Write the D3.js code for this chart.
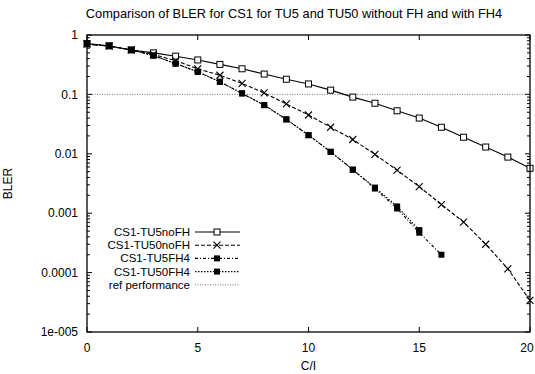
<!DOCTYPE html>
<meta charset="utf-8">
<style>
body { margin: 0; background: #fff; }
text { font-family: 'Liberation Sans', Arial, sans-serif; fill: #000; }
.frame { fill: none; stroke: #000; stroke-width: 1.3; }
.tick { stroke: #000; stroke-width: 1; }
</style>
<div class="chart"></div>
<script src="https://d3js.org/d3.v7.min.js"></script>
<script>
    var ci = d3.range(0, 21);
    var tu5noFH = [0.72, 0.66, 0.56, 0.50, 0.44, 0.38, 0.32, 0.27, 0.22, 0.18, 0.15, 0.118, 0.09, 0.071, 0.053, 0.040, 0.028, 0.019, 0.013, 0.0088, 0.0057];
    var tu50noFH = [0.70, 0.65, 0.56, 0.47, 0.37, 0.27, 0.21, 0.153, 0.106, 0.069, 0.045, 0.028, 0.0174, 0.0098, 0.0053, 0.0028, 0.0014, 0.00071, 0.0003, 0.000116, 0.000034];
    var tu5FH4 = [0.70, 0.65, 0.56, 0.45, 0.33, 0.24, 0.163, 0.104, 0.066, 0.038, 0.0206, 0.0108, 0.0054, 0.0026, 0.0012, 0.00047, 0.0002];
    var tu50FH4 = [0.70, 0.65, 0.56, 0.45, 0.33, 0.24, 0.163, 0.104, 0.066, 0.038, 0.0206, 0.0108, 0.0054, 0.0027, 0.0013, 0.00052];
    var refLevel = 0.1;
    var yTicks = [1, 0.1, 0.01, 0.001, 0.0001, 0.00001];
    var yTickLabels = ["1", "0.1", "0.01", "0.001", "0.0001", "1e-005"];
    var xTicks = [0, 5, 10, 15, 20];

    var series = [
        { name: "CS1-TU5noFH", values: tu5noFH, dash: null, marker: "open" },
        { name: "CS1-TU50noFH", values: tu50noFH, dash: "4,2", marker: "cross" },
        { name: "CS1-TU5FH4", values: tu5FH4, dash: "3,2,1,2", marker: "filled" },
        { name: "CS1-TU50FH4", values: tu50FH4, dash: "1.5,1.5", marker: "filled" }
    ];

    var W = 535, H = 374;
    var margin = { top: 35, right: 5, bottom: 42, left: 87 };
    var width = W - margin.left - margin.right;
    var height = H - margin.top - margin.bottom;

    var svg = d3.select(".chart").append("svg")
        .attr("width", W).attr("height", H);

    svg.append("text")
        .attr("x", 294).attr("y", 18)
        .attr("text-anchor", "middle")
        .style("font-size", "12.8px")
        .text("Comparison of BLER for CS1 for TU5 and TU50 without FH and with FH4");

    var g = svg.append("g")
        .attr("transform", "translate(" + margin.left + "," + margin.top + ")");

    var x = d3.scaleLinear().domain([0, 20]).range([0, width]);
    var y = d3.scaleLog().domain([0.00001, 1]).range([height, 0]);

    // ticks (inward, on all four sides)
    yTicks.forEach(function (t, i) {
        g.append("line").attr("class", "tick").attr("x1", 0).attr("x2", 5).attr("y1", y(t)).attr("y2", y(t));
        g.append("line").attr("class", "tick").attr("x1", width).attr("x2", width - 5).attr("y1", y(t)).attr("y2", y(t));
        g.append("text")
            .attr("x", -9).attr("y", y(t)).attr("dy", "0.35em")
            .attr("text-anchor", "end")
            .style("font-size", "12px")
            .text(yTickLabels[i]);
        if (i < yTicks.length - 1) {
            d3.range(2, 10).forEach(function (m) {
                var v = yTicks[i + 1] * m;
                g.append("line").attr("class", "tick").attr("x1", 0).attr("x2", 3).attr("y1", y(v)).attr("y2", y(v));
                g.append("line").attr("class", "tick").attr("x1", width).attr("x2", width - 3).attr("y1", y(v)).attr("y2", y(v));
            });
        }
    });

    xTicks.forEach(function (t) {
        g.append("line").attr("class", "tick").attr("x1", x(t)).attr("x2", x(t)).attr("y1", height).attr("y2", height - 5);
        g.append("line").attr("class", "tick").attr("x1", x(t)).attr("x2", x(t)).attr("y1", 0).attr("y2", 5);
        g.append("text")
            .attr("x", Math.min(x(t), width - 3)).attr("y", height + 20)
            .attr("text-anchor", "middle")
            .style("font-size", "12px")
            .text(t);
    });

    g.append("text")
        .attr("x", width / 2).attr("y", height + 38)
        .attr("text-anchor", "middle")
        .style("font-size", "12px")
        .text("C/I");

    g.append("text")
        .attr("transform", "translate(" + (-75) + "," + (height / 2) + ") rotate(-90)")
        .attr("text-anchor", "middle")
        .style("font-size", "12px")
        .text("BLER");

    // reference line
    g.append("line")
        .attr("x1", 0).attr("x2", width)
        .attr("y1", y(refLevel)).attr("y2", y(refLevel))
        .attr("stroke", "#555").attr("stroke-width", 0.8)
        .attr("stroke-dasharray", "1,1.5");

    var line = d3.line()
        .x(function (d, i) { return x(ci[i]); })
        .y(function (d) { return y(d); });

    function drawMarker(sel, type, cx, cy) {
        if (type === "open") {
            sel.append("rect").attr("x", cx - 3).attr("y", cy - 3).attr("width", 6).attr("height", 6)
                .attr("fill", "#fff").attr("stroke", "#000").attr("stroke-width", 1);
        } else if (type === "filled") {
            sel.append("rect").attr("x", cx - 3).attr("y", cy - 3).attr("width", 6).attr("height", 6)
                .attr("fill", "#000");
        } else {
            sel.append("path")
                .attr("d", "M" + (cx - 3.5) + "," + (cy - 3.5) + "L" + (cx + 3.5) + "," + (cy + 3.5) +
                    "M" + (cx - 3.5) + "," + (cy + 3.5) + "L" + (cx + 3.5) + "," + (cy - 3.5))
                .attr("stroke", "#000").attr("stroke-width", 1.1);
        }
    }

    series.forEach(function (s) {
        g.append("path")
            .datum(s.values)
            .attr("d", line)
            .attr("fill", "none")
            .attr("stroke", "#000")
            .attr("stroke-width", 1.1)
            .attr("stroke-dasharray", s.dash);
        s.values.forEach(function (v, i) {
            drawMarker(g, s.marker, x(ci[i]), y(v));
        });
    });

    // legend
    var legendX = 103, legendY = 232, legendStep = 13.2;
    var legendItems = series.concat([{ name: "ref performance", dash: "1,1.5", marker: null, ref: true }]);
    legendItems.forEach(function (s, i) {
        var ly = legendY - margin.top + i * legendStep;
        g.append("text")
            .attr("x", legendX).attr("y", ly).attr("dy", "0.35em")
            .attr("text-anchor", "end")
            .style("font-size", "11.5px")
            .text(s.name);
        g.append("line")
            .attr("x1", legendX + 5).attr("x2", legendX + 50)
            .attr("y1", ly).attr("y2", ly)
            .attr("stroke", s.ref ? "#555" : "#000")
            .attr("stroke-width", s.ref ? 0.8 : 1.1)
            .attr("stroke-dasharray", s.dash);
        if (s.marker) drawMarker(g, s.marker, legendX + 27, ly);
    });

    g.append("rect").attr("class", "frame")
        .attr("x", 0).attr("y", 0).attr("width", width).attr("height", height);
</script>
